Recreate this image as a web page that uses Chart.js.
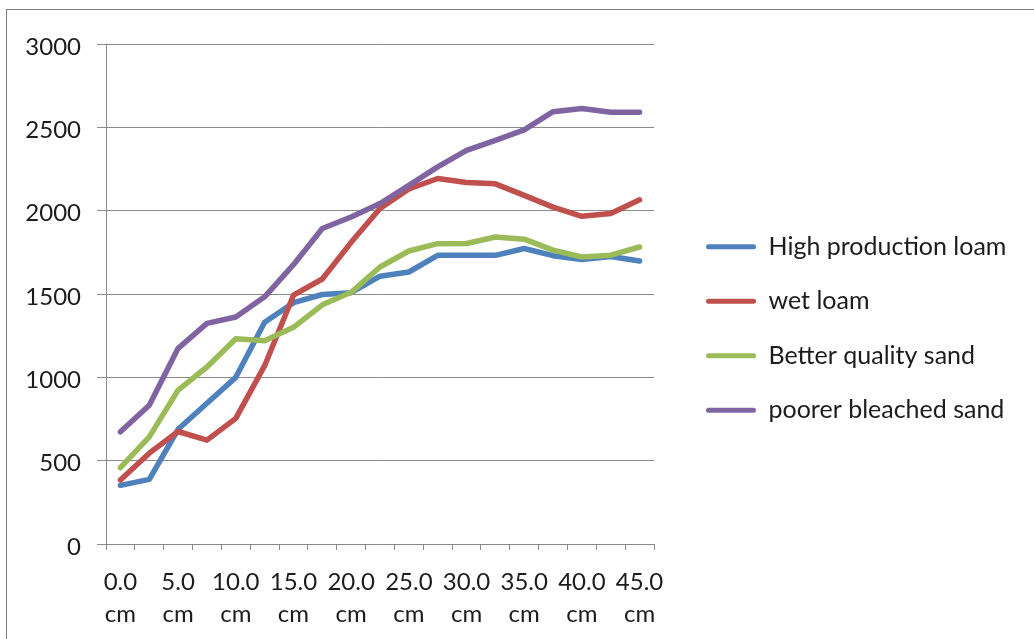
<!DOCTYPE html>
<html>
<head>
<meta charset="utf-8">
<title>Soil profile readings by depth</title>
<script src="https://cdn.jsdelivr.net/npm/chart.js@4.4.1/dist/chart.umd.min.js"></script>
<style>
  html, body { margin: 0; padding: 0; background: #ffffff; overflow: hidden; }
  #wrap { position: relative; width: 1034px; height: 639px; }
  #frame { position: absolute; left: 6px; top: 9px; right: -4px; bottom: -4px;
           border-left: 1px solid #7f7f7f; border-top: 1px solid #7f7f7f; pointer-events: none; }
  canvas { position: absolute; left: 0; top: 0; }
</style>
</head>
<body>
<div id="wrap">
  <canvas id="chart" width="1034" height="639"></canvas>
  <div id="frame"></div>
</div>
<script>
// Depth categories (every 2.5 cm)
const depths = ['0.0 cm', '2.5 cm', '5.0 cm', '7.5 cm', '10.0 cm', '12.5 cm', '15.0 cm', '17.5 cm',
  '20.0 cm', '22.5 cm', '25.0 cm', '27.5 cm', '30.0 cm', '32.5 cm', '35.0 cm', '37.5 cm',
  '40.0 cm', '42.5 cm', '45.0 cm'];

// Readings per soil type
const highProductionLoam = [352, 388, 688, 845, 1000, 1330, 1448, 1497, 1508, 1607, 1632, 1732, 1732, 1732, 1773, 1730, 1707, 1725, 1698];
const wetLoam = [384, 545, 675, 623, 754, 1070, 1493, 1590, 1810, 2013, 2130, 2193, 2169, 2161, 2092, 2021, 1966, 1983, 2065];
const betterQualitySand = [458, 643, 923, 1062, 1231, 1220, 1300, 1435, 1510, 1662, 1758, 1802, 1803, 1842, 1829, 1763, 1722, 1733, 1782];
const poorerBleachedSand = [673, 833, 1174, 1324, 1362, 1483, 1676, 1893, 1962, 2043, 2152, 2263, 2362, 2422, 2485, 2594, 2613, 2591, 2591];

const seriesNames = ['High production loam', 'wet loam', 'Better quality sand', 'poorer bleached sand'];
const seriesColors = ['#4F81BD', '#C0504D', '#9BBB59', '#8064A2'];
const seriesValues = [highProductionLoam, wetLoam, betterQualitySand, poorerBleachedSand];

// Y axis range
const yMin = 0, yMax = 3000, yStep = 500;

const FONT = 'Lato';
const FONT_SIZE = 24;
const LEGEND_FONT_SIZE = 25;
const TEXT_COLOR = '#1c1c1c';
const AXIS_COLOR = '#8a8a8a';

// Layout sizes
const W = 1034, H = 639;
const plotLeft = 106, plotRight = 654, plotTop = 44, plotBottom = 544;
const legendPad = 29.5, legendBoxW = 50, legendGapX = 22.5, legendLiftY = 13;

// Width the legend will ask for, so the plot ends where it should
const mctx = document.createElement('canvas').getContext('2d');
mctx.font = LEGEND_FONT_SIZE + 'px ' + FONT;
const maxText = Math.max(...seriesNames.map(n => mctx.measureText(n).width));
const legendWidth = legendPad + legendBoxW + LEGEND_FONT_SIZE / 2 + maxText + 10;
const rightPad = Math.max(0, W - plotRight - legendWidth);

// Nudge the legend block right of the plot and a little upward
const legendShift = {
  id: 'legendShift',
  afterLayout(chart) {
    const lg = chart.legend;
    if (lg) {
      lg.left += legendGapX;
      lg.right += legendGapX;
      lg.top -= legendLiftY;
      lg.bottom -= legendLiftY;
    }
  }
};

const datasets = seriesValues.map((vals, i) => ({
  label: seriesNames[i],
  data: vals,
  borderColor: seriesColors[i],
  backgroundColor: seriesColors[i],
  borderWidth: 5.5,
  pointRadius: 0,
  pointHoverRadius: 0,
  tension: 0,
  borderJoinStyle: 'round',
  borderCapStyle: 'round',
  order: seriesValues.length - i
}));

new Chart(document.getElementById('chart'), {
  type: 'line',
  data: { labels: depths, datasets },
  plugins: [legendShift],
  options: {
    responsive: false,
    animation: false,
    layout: { padding: { left: 0, top: plotTop, right: rightPad, bottom: 0 } },
    plugins: {
      tooltip: { enabled: false },
      legend: {
        position: 'right',
        maxWidth: 420,
        labels: {
          font: { family: FONT, size: LEGEND_FONT_SIZE },
          color: TEXT_COLOR,
          boxWidth: legendBoxW,
          boxHeight: 5,
          padding: legendPad,
          sort: (a, b) => a.datasetIndex - b.datasetIndex,
          generateLabels(chart) {
            const items = Chart.defaults.plugins.legend.labels.generateLabels(chart);
            items.forEach(it => {
              it.fillStyle = seriesColors[it.datasetIndex];
              it.lineWidth = 0;
              it.borderRadius = 2.5;
            });
            return items;
          }
        }
      }
    },
    scales: {
      x: {
        type: 'category',
        offset: true,
        grid: {
          offset: true,
          drawOnChartArea: false,
          drawTicks: true,
          tickLength: 6,
          color: AXIS_COLOR,
          lineWidth: 1
        },
        border: { display: true, color: AXIS_COLOR, width: 1 },
        ticks: {
          autoSkip: false,
          maxRotation: 0,
          minRotation: 0,
          padding: 15.5,
          color: TEXT_COLOR,
          font: { family: FONT, size: FONT_SIZE, lineHeight: 1.36 },
          callback(value, index) {
            if (index % 2 !== 0) return '';
            return depths[index].split(' ');
          }
        },
        afterFit(scale) { scale.height = H - plotBottom; }
      },
      y: {
        min: yMin,
        max: yMax,
        grid: {
          color: AXIS_COLOR,
          lineWidth: 1,
          tickLength: 9
        },
        border: { display: true, color: AXIS_COLOR, width: 1 },
        ticks: {
          stepSize: yStep,
          padding: 16,
          labelOffset: 3,
          color: TEXT_COLOR,
          font: { family: FONT, size: FONT_SIZE },
          callback: value => String(value)
        },
        afterFit(scale) { scale.width = plotLeft; }
      }
    }
  }
});
</script>
</body>
</html>
